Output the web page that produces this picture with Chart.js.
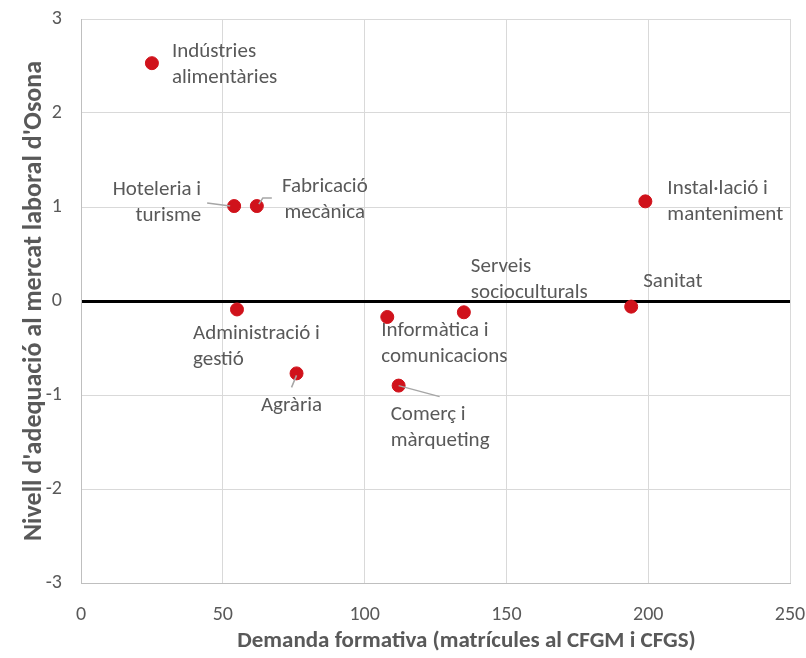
<!DOCTYPE html>
<html>
<head>
<meta charset="utf-8">
<script src="https://cdn.jsdelivr.net/npm/chart.js@4/dist/chart.umd.min.js"></script>
<style>
  body { margin: 0; background: #fff; }
  #wrap { width: 806px; height: 658px; }
</style>
</head>
<body>
<div id="wrap"><canvas id="grafic"></canvas></div>
<script>
// families i valors llegits del gràfic
var families = ['Indústries alimentàries', 'Hoteleria i turisme', 'Fabricació mecànica',
    'Instal·lació i manteniment', 'Sanitat', 'Serveis socioculturals',
    'Informàtica i comunicacions', 'Administració i gestió', 'Agrària', 'Comerç i màrqueting'];
var demanda = [25, 54, 62, 199, 194, 135, 108, 55, 76, 112];
var adequacio = [2.53, 1.01, 1.01, 1.06, -0.06, -0.12, -0.17, -0.09, -0.77, -0.90];
var ticksX = [0, 50, 100, 150, 200, 250];
var ticksY = [-3, -2, -1, 0, 1, 2, 3];

var font = "Calibri, Carlito, 'Open Sans', sans-serif";
var gris = '#595959';
var titolX = 'Demanda formativa (matrícules al CFGM i CFGS)';

// on va cada etiqueta respecte del punt (línies, desplaçament, alineació, guia)
var etiquetes = [
    { text: ['Indústries', 'alimentàries'], dx: 20, dy: -11, align: 'left' },
    { text: ['Hoteleria i', 'turisme'], dx: -33, dy: -16, align: 'right', guia: [[-27, -3], [-4, 0]] },
    { text: ['Fabricació', 'mecànica'], dx: 68, dy: -19, align: 'center', guia: [[2, -2], [6, -8], [15, -8]] },
    { text: ['Instal·lació i', 'manteniment'], dx: 22, dy: -13, align: 'left' },
    { text: ['Sanitat'], dx: 12, dy: -25, align: 'left' },
    { text: ['Serveis', 'socioculturals'], dx: 7, dy: -46, align: 'left' },
    { text: ['Informàtica i', 'comunicacions'], dx: -6, dy: 14, align: 'left' },
    { text: ['Administració i', 'gestió'], dx: -44, dy: 24, align: 'left' },
    { text: ['Agrària'], dx: -5, dy: 32, align: 'center', guia: [[0, 2], [-5, 14]] },
    { text: ['Comerç i', 'màrqueting'], dx: -8, dy: 29, align: 'left', guia: [[0, 0], [41, 11]] }
];

var pluginEtiquetes = {
    id: 'etiquetes',
    afterDatasetsDraw: function (chart) {
        var ctx = chart.ctx;
        var meta = chart.getDatasetMeta(0);
        var area = chart.chartArea;
        ctx.save();
        meta.data.forEach(function (pt, i) {
            var e = etiquetes[i];
            if (e.guia) {
                ctx.strokeStyle = '#a6a6a6';
                ctx.lineWidth = 1.5;
                ctx.beginPath();
                e.guia.forEach(function (g, k) {
                    if (k === 0) ctx.moveTo(pt.x + g[0], pt.y + g[1]);
                    else ctx.lineTo(pt.x + g[0], pt.y + g[1]);
                });
                ctx.stroke();
            }
            ctx.fillStyle = gris;
            ctx.font = '21px ' + font;
            ctx.textAlign = e.align;
            ctx.textBaseline = 'middle';
            e.text.forEach(function (linia, k) {
                ctx.fillText(linia, pt.x + e.dx, pt.y + e.dy + k * 26);
            });
        });
        // títol de l'eix X, una mica desplaçat a la dreta com a l'original
        ctx.font = 'bold 23px ' + font;
        ctx.textAlign = 'center';
        ctx.textBaseline = 'middle';
        ctx.fillStyle = gris;
        ctx.fillText(titolX, (area.left + area.right) / 2 + 31, area.bottom + 58);
        ctx.restore();
    }
};

var punts = demanda.map(function (d, i) { return { x: d, y: adequacio[i] }; });

new Chart(document.getElementById('grafic'), {
    type: 'scatter',
    data: {
        datasets: [{
            label: 'Famílies professionals',
            data: punts,
            backgroundColor: '#d0121b',
            borderColor: '#d0121b',
            pointRadius: 6.5,
            pointHoverRadius: 6.5
        }]
    },
    options: {
        responsive: true,
        maintainAspectRatio: false,
        animation: false,
        layout: { padding: { top: 19, right: 16, left: 0, bottom: 0 } },
        plugins: {
            legend: { display: false },
            tooltip: { enabled: false }
        },
        scales: {
            x: {
                type: 'linear',
                min: 0,
                max: 250,
                afterBuildTicks: function (s) { s.ticks = ticksX.map(function (v) { return { value: v }; }); },
                afterFit: function (s) {
                    s.height = 75;
                    s.paddingLeft = 0;
                    s.paddingRight = 0;
                },
                grid: { color: '#d9d9d9', lineWidth: 1, drawTicks: false },
                border: { color: '#bfbfbf' },
                ticks: { color: gris, font: { family: font, size: 20 }, padding: 20 },
                title: { display: false }
            },
            y: {
                type: 'linear',
                min: -3,
                max: 3,
                afterBuildTicks: function (s) { s.ticks = ticksY.map(function (v) { return { value: v }; }); },
                afterFit: function (s) {
                    s.width = 81;
                    s.paddingTop = 0;
                    s.paddingBottom = 0;
                },
                grid: {
                    drawTicks: false,
                    color: function (c) { return c.tick && c.tick.value === 0 ? '#000000' : '#d9d9d9'; },
                    lineWidth: function (c) { return c.tick && c.tick.value === 0 ? 3 : 1; }
                },
                border: { color: '#bfbfbf' },
                ticks: { color: gris, font: { family: font, size: 20 }, padding: 19 },
                title: {
                    display: true,
                    text: "Nivell d'adequació al mercat laboral d'Osona",
                    color: gris,
                    font: { family: font, size: 26, weight: 'bold' },
                    padding: { top: 19, bottom: 0 }
                }
            }
        }
    },
    plugins: [pluginEtiquetes]
});
</script>
</body>
</html>
